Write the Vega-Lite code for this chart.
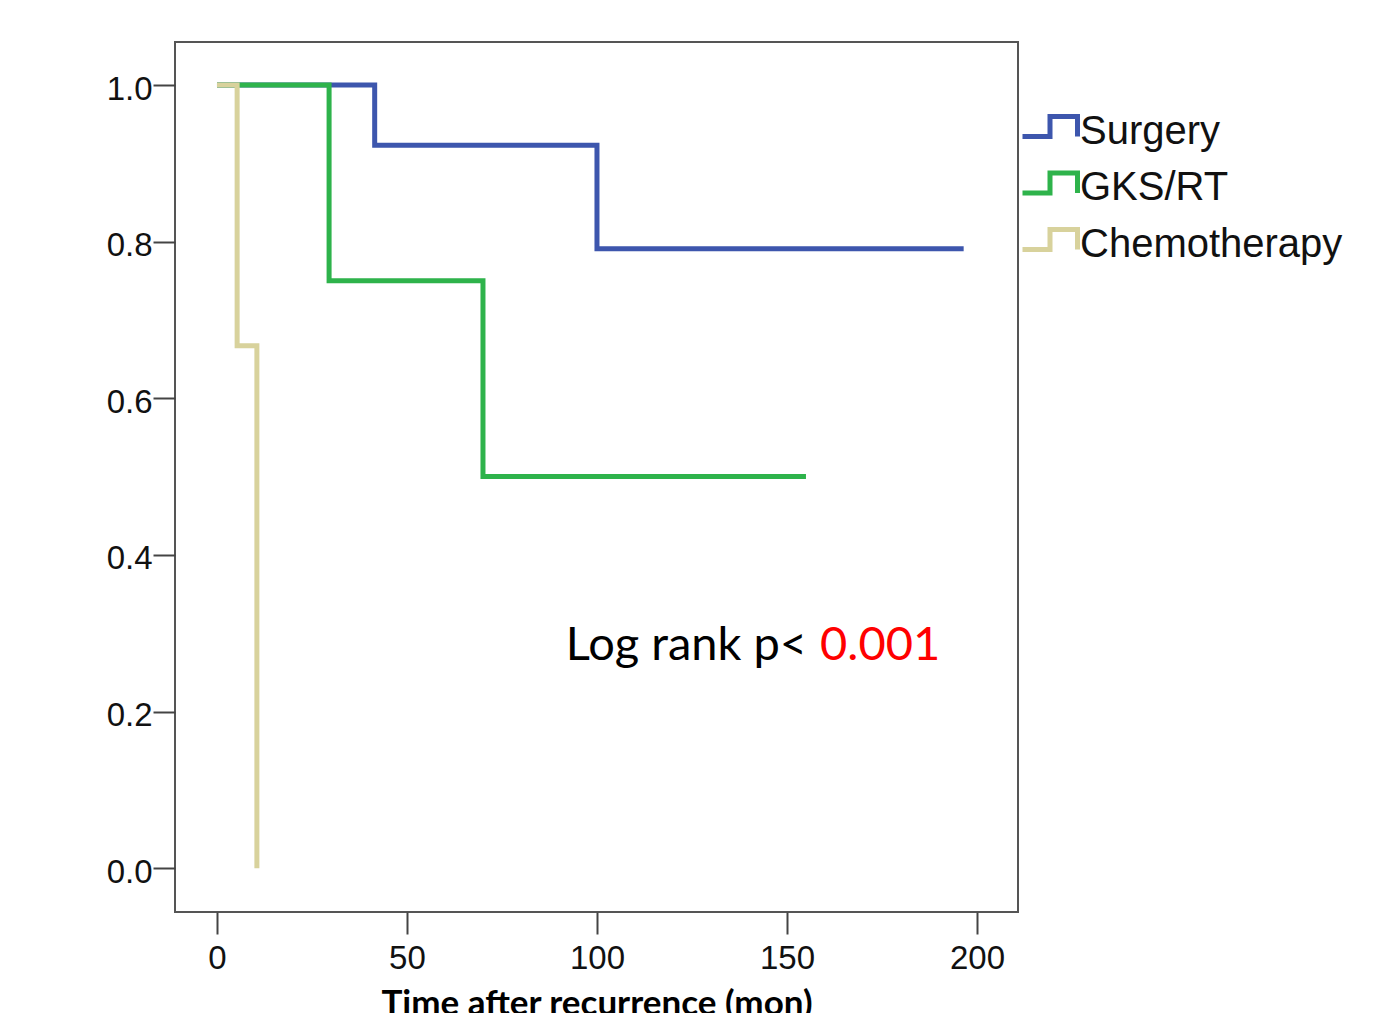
{
  "$schema": "https://vega.github.io/schema/vega-lite/v6.json",
  "autosize": "none",
  "width": 843,
  "height": 870,
  "padding": {"left": 175, "top": 42, "right": 376, "bottom": 101},
  "background": "white",
  "config": {
    "view": {"stroke": "#555555", "strokeWidth": 2},
    "axis": {
      "grid": false,
      "domain": false,
      "tickColor": "#444444",
      "tickWidth": 2,
      "tickSize": 22,
      "labelFont": "Liberation Sans",
      "labelFontSize": 33,
      "labelColor": "#111111"
    }
  },
  "datasets": {
    "km": [
      {"group": "Surgery", "time": 0, "surv": 1.0},
      {"group": "Surgery", "time": 41.5, "surv": 0.923},
      {"group": "Surgery", "time": 100, "surv": 0.791},
      {"group": "Surgery", "time": 196.5, "surv": 0.791},
      {"group": "GKS/RT", "time": 0, "surv": 1.0},
      {"group": "GKS/RT", "time": 29.5, "surv": 0.75},
      {"group": "GKS/RT", "time": 70, "surv": 0.5},
      {"group": "GKS/RT", "time": 155, "surv": 0.5},
      {"group": "Chemotherapy", "time": 0, "surv": 1.0},
      {"group": "Chemotherapy", "time": 5.3, "surv": 0.667},
      {"group": "Chemotherapy", "time": 10.5, "surv": 0.0}
    ],
    "notes": [
      {"label": "Log rank p<", "time": 155.3, "surv": 0.266, "part": "a"},
      {"label": "0.001", "time": 158.7, "surv": 0.266, "part": "b"}
    ]
  },
  "layer": [
    {
      "data": {"name": "km"},
      "mark": {"type": "line", "interpolate": "step-after", "strokeWidth": 5, "strokeCap": "butt", "strokeJoin": "miter"},
      "encoding": {
        "x": {
          "field": "time", "type": "quantitative",
          "scale": {"domain": [-11.05, 210.8], "nice": false, "zero": false},
          "axis": {"values": [0, 50, 100, 150, 200], "title": "Time after recurrence (mon)", "labelPadding": 8,
                   "titleFont": "Lato", "titleFontWeight": "bold", "titleFontSize": 35, "titleColor": "#000000", "titlePadding": 11}
        },
        "y": {
          "field": "surv", "type": "quantitative",
          "scale": {"domain": [-0.056, 1.055], "nice": false, "zero": false},
          "axis": {"values": [0, 0.2, 0.4, 0.6, 0.8, 1.0], "format": ".1f", "title": null, "labelPadding": 1, "labelOffset": 4}
        },
        "color": {
          "field": "group", "type": "nominal",
          "scale": {"domain": ["Surgery", "GKS/RT", "Chemotherapy"], "range": ["#3d56ad", "#2eb34b", "#d8d29c"]},
          "legend": {
            "title": null,
            "orient": "none",
            "legendX": 845,
            "legendY": 54.5,
            "padding": 0,
            "symbolType": "M-1,0.36H0V-0.36H1V0.36",
            "symbolSize": 3025,
            "symbolStrokeWidth": 5,
            "symbolFillColor": "transparent",
            "labelFont": "Liberation Sans",
            "labelFontSize": 40,
            "labelColor": "#111111",
            "labelLimit": 0,
            "labelOffset": 0,
            "rowPadding": 1.5,
            "encode": {
              "symbols": {"update": {"fill": {"value": "transparent"}, "strokeWidth": {"value": 5}}},
              "labels": {"update": {"dy": {"value": 5}}}
            }
          }
        },
        "order": {"field": "time", "type": "quantitative"}
      }
    },
    {
      "data": {"name": "notes"},
      "transform": [{"filter": "datum.part === 'a'"}],
      "mark": {"type": "text", "align": "right", "baseline": "alphabetic", "font": "Lato", "fontSize": 47, "color": "#000000"},
      "encoding": {
        "x": {"field": "time", "type": "quantitative"},
        "y": {"field": "surv", "type": "quantitative"},
        "text": {"field": "label"}
      }
    },
    {
      "data": {"name": "notes"},
      "transform": [{"filter": "datum.part === 'b'"}],
      "mark": {"type": "text", "align": "left", "baseline": "alphabetic", "font": "Lato", "fontSize": 47, "color": "#ff0000"},
      "encoding": {
        "x": {"field": "time", "type": "quantitative"},
        "y": {"field": "surv", "type": "quantitative"},
        "text": {"field": "label"}
      }
    }
  ]
}
